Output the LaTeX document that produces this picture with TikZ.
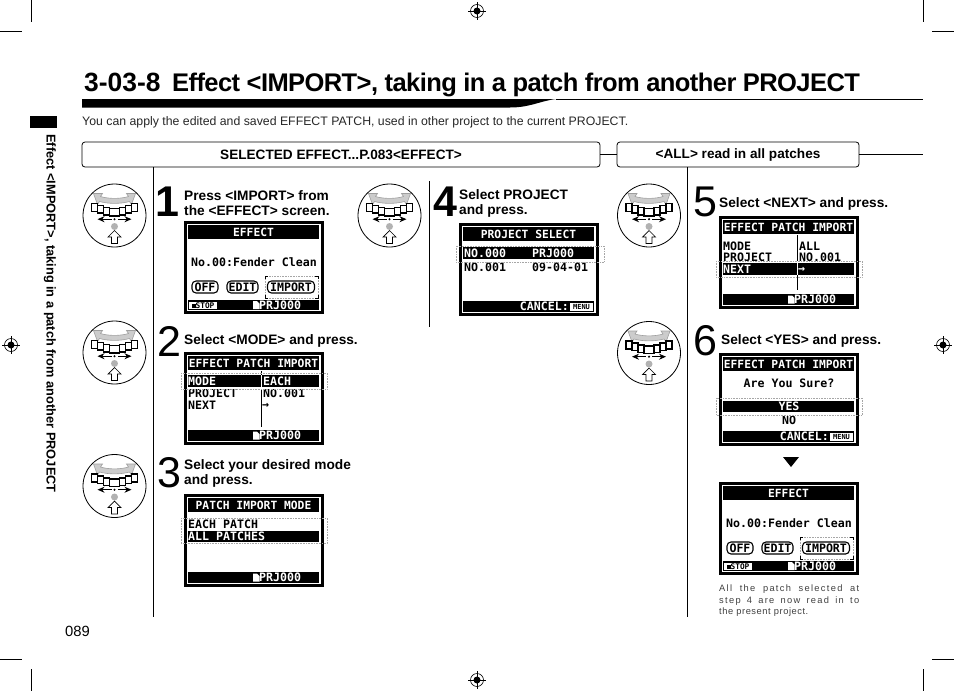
\documentclass[tikz,border=0pt]{standalone}
\usepackage{fontspec}
\usepackage{xcolor}
\usepackage{tikz}
\usetikzlibrary{positioning,arrows.meta}
\setmainfont{Liberation Sans}
\newfontfamily\lcdfont{DejaVu Sans Mono}

\tikzset{
  crop/.style={line width=0.7pt},
  rule/.style={line width=0.8pt},
  headbox/.style={draw,rounded corners=3pt,line width=0.8pt,minimum height=25pt,font=\fontsize{13.6}{15}\bfseries,inner sep=0pt},
  stepnum/.style={font=\fontsize{43}{43}\selectfont,inner sep=0pt},
  steptext/.style={anchor=west,align=left,inner sep=0pt,font=\fontsize{13.7}{15}\bfseries},
  lcdedge/.style={draw,line width=3pt},
  lcdtxt/.style={inner sep=0pt,font=\fontsize{11.6}{12}\lcdfont\bfseries},
  lcdinv/.style={lcdtxt,text=white},
  lcdhead/.style={lcdinv,font=\fontsize{11.3}{12}\lcdfont\bfseries},
  lcdrow/.style={lcdtxt,anchor=west},
  lcdsel/.style={draw=gray!70,densely dotted,line width=0.6pt},
  lcdbtn/.style={draw,rounded corners=4pt,line width=1.1pt,lcdtxt,inner sep=0pt,minimum height=12pt},
  knobgrey/.style={draw=gray!75,fill=gray!40,line width=0.6pt}
}

% dial symbol
\newcommand{\knob}[1]{
  \begin{scope}[shift={#1}]
    \draw[line width=0.8pt] (0,0) circle (31.5);
    \draw[knobgrey] (-21,-22) -- (-12,-22) -- (-14,-19) .. controls (-6,-16.5) and (6,-16.5) .. (14,-19) -- (12,-22) -- (21,-22) -- (17,-11) -- (15,-14) .. controls (6,-11.5) and (-6,-11.5) .. (-15,-14) -- (-17,-11) -- cycle;
    \foreach \px/\py/\qx/\qy in {-23/-12/-17/-4,-17/-10/-11/-2.5,-11/-8/-5/-0.5,-5/-7/5/0.5,5/-8/11/-0.5,11/-10/17/-2.5,17/-12/23/-4}
      \draw[fill=white,line width=1.1pt] (\px,\py) rectangle (\qx,\qy);
    \draw[{Stealth[length=7pt,width=6pt]}-{Stealth[length=7pt,width=6pt]},line width=1.1pt] (-17,3.7) -- (17,3.7);
    \fill[white] (-3,1) rectangle (3,6.5);
    \fill (0,3.7) circle (1.2);
    \fill[gray!60] (0,11) circle (3.5);
    \draw[fill=white,line width=0.7pt] (0,15) -- (6.5,21.5) -- (3,21.5) -- (3,28) -- (-3,28) -- (-3,21.5) -- (-6.5,21.5) -- cycle;
  \end{scope}
}

% register mark of the printer
\newcommand{\regmark}[1]{
  \begin{scope}[shift={#1}]
    \draw[line width=0.6pt] (0,0) circle (6.5);
    \draw[line width=0.6pt] (-9,0) -- (9,0) (0,-9) -- (0,9);
    \fill (0,0) circle (3.5);
  \end{scope}
}

% frame and title bar of a screen, 140 by 93
\newcommand{\lcdbody}[2]{
  \draw[lcdedge] (1.5,1.5) rectangle (138.5,91.5);
  \fill (4,4) rectangle (135,18);
  \node[lcdhead] (#1title) at (69.5,11) {#2};
}
\newcommand{\lcdfoot}[1]{
  \fill (4,78) rectangle (135,89);
  \fill[white] (69,79.5) -- (73,79.5) -- (75.5,82) -- (75.5,87.5) -- (69,87.5) -- cycle;
  \node[lcdinv,anchor=west] (#1prj) at (75,83.5) {PRJ000};
}
\newcommand{\lcdcancel}[1]{
  \fill (4,78) rectangle (135,89);
  \node[lcdinv,anchor=east] (#1cancel) at (110,83.5) {CANCEL:};
  \node[fill=white,inner sep=0pt,font=\fontsize{7}{7}\lcdfont\bfseries,minimum width=23pt,minimum height=8pt] (#1menu) at (122.5,83.5) {MENU};
}
\newcommand{\lcdeffect}[1]{
  \lcdbody{#1}{EFFECT}
  \node[lcdtxt] (#1patch) at (70,41) {No.00:Fender Clean};
  \node[lcdbtn,minimum width=26pt] (#1off) at (21,66) {OFF};
  \node[lcdbtn,minimum width=31pt] (#1edit) at (58.5,66) {EDIT};
  \node[lcdbtn,minimum width=47pt] (#1imp) at (107,66) {IMPORT};
  \draw[lcdsel] (81,55) rectangle (134,77);
  \draw[line width=0.9pt] (81,58) -- (81,55) -- (84,55) (131,55) -- (134,55) -- (134,58) (134,74) -- (134,77) -- (131,77) (84,77) -- (81,77) -- (81,74);
  \fill (4,79) rectangle (135,89);
  \fill[white] (5,80.5) rectangle (33,88);
  \node[inner sep=0pt,font=\fontsize{7.8}{8}\lcdfont\bfseries] (#1stop) at (19,84.2) {\rule{4pt}{4.5pt}STOP};
  \fill[white] (69,80) -- (73,80) -- (75.5,82.5) -- (75.5,88) -- (69,88) -- cycle;
  \node[lcdinv,anchor=west] (#1prj) at (75,84) {PRJ000};
}

\begin{document}
\begin{tikzpicture}[x=1pt,y=-1pt]
\useasboundingbox (0,0) rectangle (954,691);

% printer's marks
\draw[crop] (31,0) -- (31,22) (0,31) -- (22,31);
\draw[crop] (923,0) -- (923,22) (932,31) -- (954,31);
\draw[crop] (31,669) -- (31,691) (0,659) -- (22,659);
\draw[crop] (923,669) -- (923,691) (932,659) -- (954,659);
\regmark{(477,11)}
\regmark{(11,345)}
\regmark{(943,345)}
\regmark{(477,680)}

% heading
\node[anchor=base west,inner sep=0pt,font=\fontsize{26.4}{27}\bfseries] (secnum) at (84,91) {3-03-8};
\node[anchor=base west,inner sep=0pt,font=\fontsize{25.5}{26}\bfseries\addfontfeatures{LetterSpace=-2.25}] (sectitle) at (172,91) {Effect <IMPORT>, taking in a patch from another PROJECT};
\fill (82,99) -- (556,99) .. controls (540,101) and (530,107.5) .. (510,107.5) -- (82,107.5) -- cycle;
\draw[rule] (556,99.4) -- (923,99.4);
\node[anchor=west,inner sep=0pt,font=\fontsize{12.3}{14}\selectfont,text=black!85] (intro) at (82,122.3) {You can apply the edited and saved EFFECT PATCH, used in other project to the current PROJECT.};

% side tab
\fill (30,116) rectangle (57,128);
\node[rotate=-90,anchor=west,inner sep=0pt,font=\fontsize{12.8}{14}\bfseries] (sidetxt) at (50,134) {Effect <IMPORT>, taking in a patch from another PROJECT};
\node[anchor=west,inner sep=0pt,font=\fontsize{14.8}{16}\selectfont] (pagenum) at (65,631) {089};

% header boxes
\node[headbox,minimum width=518pt] (selected) at (341,154.5) {SELECTED EFFECT...P.083<EFFECT>};
\node[headbox,minimum width=242pt] (allread) at (738,154.5) {<ALL> read in all patches};
\coordinate (headend) at (923,154.5);
\draw[rule] (selected) -- (allread);
\draw[rule] (allread) -- (headend);

% column rules
\draw[rule] (153,167) -- (153,617);
\draw[rule] (429,181) -- (429,327);
\draw[rule] (687,167) -- (687,617);

% dials
\knob{(114.5,215.5)}
\knob{(114.5,352.5)}
\knob{(114.5,486)}
\knob{(389.5,215.5)}
\knob{(649,215.5)}
\knob{(649,353)}

% step numbers and texts
\node[stepnum,font=\fontsize{43}{43}\bfseries] (numa) at (167,202) {1};
\node[stepnum] (numb) at (169,341) {2};
\node[stepnum] (numc) at (169,473) {3};
\node[stepnum,font=\fontsize{43}{43}\bfseries] (numd) at (445,202) {4};
\node[stepnum] (nume) at (705,202) {5};
\node[stepnum] (numf) at (705,341) {6};
\node[steptext] (texta) at (184,203.2) {Press <IMPORT> from\\the <EFFECT> screen.};
\node[steptext] (textb) at (184,340.8) {Select <MODE> and press.};
\node[steptext] (textc) at (184,473.3) {Select your desired mode\\and press.};
\node[steptext] (textd) at (459,203.2) {Select PROJECT\\and press.};
\node[steptext] (texte) at (719,203.8) {Select <NEXT> and press.};
\node[steptext] (textf) at (721,340.8) {Select <YES> and press.};

% screen of step 1
\begin{scope}[shift={(184,221)}]
  \lcdeffect{sa}
\end{scope}

% screen of step 2
\begin{scope}[shift={(184,352)}]
  \lcdbody{sb}{EFFECT PATCH IMPORT}
  \node[lcdrow] (sbprj) at (4,41) {PROJECT};
  \node[lcdrow] (sbnum) at (79,41) {NO.001};
  \node[lcdrow] (sbnext) at (4,53) {NEXT};
  \node[lcdrow] (sbarr) at (78,53.5) {→};
  \draw[line width=0.8pt] (77,19) -- (77,75);
  \fill[white] (4,34) rectangle (135,37);
  \fill (4,23) rectangle (135,34.5);
  \draw[white,line width=0.8pt] (77,23) -- (77,34.5);
  \node[lcdinv,anchor=west] (sbmode) at (4,29) {MODE};
  \node[lcdinv,anchor=west] (sbeach) at (79,29) {EACH};
  \draw[lcdsel] (-3,21) rectangle (143,37);
  \lcdfoot{sb}
\end{scope}

% screen of step 3
\begin{scope}[shift={(184,494)}]
  \lcdbody{sc}{PATCH IMPORT MODE}
  \node[lcdrow] (sceach) at (4,30) {EACH PATCH};
  \fill (4,37) rectangle (135,48);
  \node[lcdinv,anchor=west] (scall) at (4,42.5) {ALL PATCHES};
  \draw[lcdsel] (-3,24) rectangle (143,49.5);
  \lcdfoot{sc}
\end{scope}

% screen of step 4
\begin{scope}[shift={(459,223)}]
  \lcdbody{sd}{PROJECT SELECT}
  \node[lcdrow] (sdnoa) at (5,44) {NO.001};
  \node[lcdrow] (sddate) at (73,44) {09-04-01};
  \fill[white] (4,36) rectangle (135,39);
  \fill (4,24) rectangle (135,36);
  \node[lcdinv,anchor=west] (sdnob) at (5,30) {NO.000};
  \node[lcdinv,anchor=west] (sdprj) at (73,30) {PRJ000};
  \draw[lcdsel] (-3,23) rectangle (145,39);
  \lcdcancel{sd}
\end{scope}

% screen of step 5
\begin{scope}[shift={(719,216)}]
  \lcdbody{se}{EFFECT PATCH IMPORT}
  \node[lcdrow] (semode) at (4,30) {MODE};
  \node[lcdrow] (seall) at (80,30) {ALL};
  \node[lcdrow] (seprj) at (4,41) {PROJECT};
  \node[lcdrow] (senum) at (80,41) {NO.001};
  \draw[line width=0.8pt] (78,19) -- (78,74);
  \fill[white] (4,45) rectangle (135,47.5);
  \fill (4,47) rectangle (135,59);
  \draw[white,line width=0.8pt] (78,47) -- (78,59);
  \node[lcdinv,anchor=west] (senext) at (4,53) {NEXT};
  \node[lcdinv,anchor=west] (searr) at (79,53.5) {→};
  \draw[lcdsel] (-3,45) rectangle (143,61);
  \lcdfoot{se}
\end{scope}

% screen of step 6
\begin{scope}[shift={(719,353)}]
  \lcdbody{sf}{EFFECT PATCH IMPORT}
  \node[lcdtxt] (sfsure) at (70,30) {Are You Sure?};
  \node[lcdtxt] (sfno) at (70,67) {NO};
  \fill[white] (4,59) rectangle (135,62.5);
  \fill (4,48) rectangle (135,59);
  \node[lcdinv] (sfyes) at (70,53.5) {YES};
  \draw[lcdsel] (-3,45) rectangle (143,62);
  \lcdcancel{sf}
\end{scope}

% final screen
\fill (783,457) -- (799,457) -- (791,467) -- cycle;
\begin{scope}[shift={(719,482)}]
  \lcdeffect{sg}
\end{scope}
\node[anchor=north west,inner sep=0pt,align=left,text=black!75,font=\fontsize{9.3}{11.2}\addfontfeatures{LetterSpace=14}] (note) at (719,585) {\makebox[140pt][s]{All the patch selected at}\\\makebox[140pt][s]{step 4 are now read in to}\\\addfontfeatures{LetterSpace=6}the present project.};
\end{tikzpicture}
\end{document}
